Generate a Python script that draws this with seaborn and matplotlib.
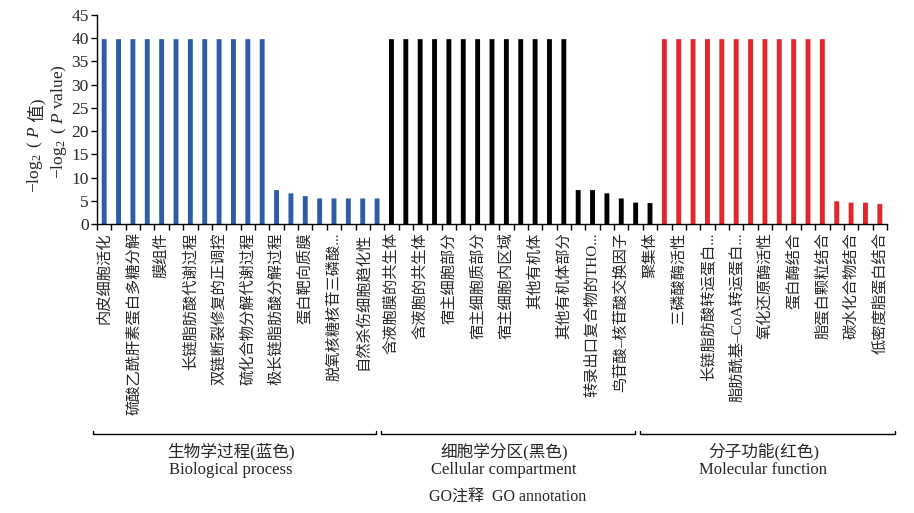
import numpy as np
import pandas as pd
import matplotlib
matplotlib.use("Agg")
import matplotlib.pyplot as plt
from matplotlib.lines import Line2D
import seaborn as sns

# ---------------- data ----------------
bp_values = [39.8, 39.8, 39.8, 39.8, 39.8, 39.8, 39.8, 39.8, 39.8, 39.8, 39.8, 39.8,
             7.3, 6.6, 6.0, 5.5, 5.5, 5.5, 5.5, 5.5]
cc_values = [39.8, 39.8, 39.8, 39.8, 39.8, 39.8, 39.8, 39.8, 39.8, 39.8, 39.8, 39.8, 39.8,
             7.3, 7.3, 6.6, 5.5, 4.6, 4.5]
mf_values = [39.8, 39.8, 39.8, 39.8, 39.8, 39.8, 39.8, 39.8, 39.8, 39.8, 39.8, 39.8,
             4.9, 4.6, 4.6, 4.3]

# labels shown under every other bar (bars 0, 2, 4, ...)
tick_labels = [
    "内皮细胞活化", "硫酸乙酰肝素蛋白多糖分解", "膜组件", "长链脂肪酸代谢过程",
    "双链断裂修复的正调控", "硫化合物分解代谢过程", "极长链脂肪酸分解过程", "蛋白靶向质膜",
    "脱氧核糖核苷三磷酸...", "自然杀伤细胞趋化性",
    "含液胞膜的共生体", "含液胞的共生体", "宿主细胞部分", "宿主细胞质部分",
    "宿主细胞内区域", "其他有机体", "其他有机体部分", "转录出口复合物的THO...",
    "鸟苷酸–核苷酸交换因子", "聚集体",
    "三磷酸酶活性", "长链脂肪酸转运蛋白...", "脂肪酰基–CoA转运蛋白...", "氧化还原酶活性",
    "蛋白酶结合", "脂蛋白颗粒结合", "碳水化合物结合", "低密度脂蛋白结合",
]

group_names = ["BP", "CC", "MF"]
group_cn = ["生物学过程(蓝色)", "细胞学分区(黑色)", "分子功能(红色)"]
group_en = ["Biological process", "Cellular compartment", "Molecular function"]
colors = {"BP": "#2D5CA9", "CC": "#000000", "MF": "#E3262C"}

values = bp_values + cc_values + mf_values
groups = (["BP"] * len(bp_values) + ["CC"] * len(cc_values) + ["MF"] * len(mf_values))
df = pd.DataFrame({"pos": np.arange(len(values)), "value": values, "group": groups})

# ---------------- style ----------------
sns.set_style("ticks")
serif_cjk = ["Liberation Serif", "Noto Sans CJK SC"]
plt.rcParams["font.family"] = serif_cjk
plt.rcParams["mathtext.fontset"] = "custom"
plt.rcParams["mathtext.rm"] = "Liberation Serif"
plt.rcParams["mathtext.it"] = "Liberation Serif:italic"
plt.rcParams["axes.unicode_minus"] = True

W, H = 914, 513
fig = plt.figure(figsize=(W / 100, H / 100), dpi=100)
ax = fig.add_axes([97 / W, 1 - 224 / H, (887 - 97) / W, (224 - 15) / H])

sns.barplot(data=df, x="pos", y="value", hue="group", hue_order=group_names,
            palette=colors, native_scale=True, width=0.34, dodge=False,
            saturation=1, legend=False, ax=ax, linewidth=0)
for p in ax.patches:
    p.set_snap(False)
    p.set_edgecolor("none")

n = len(values)
ax.set_xlim(-0.5, n - 0.5)
ax.set_ylim(0, 45)
ax.set_yticks(np.arange(0, 46, 5))
ax.set_xticks(np.arange(0, n, 2))
ax.set_xticklabels(tick_labels, rotation=90, fontsize=11, family=serif_cjk)
ax.set_xticks(np.arange(-0.5, n, 1), minor=True)
ax.tick_params(axis="x", which="major", length=0, pad=6)
ax.tick_params(axis="x", which="minor", length=4, width=1, direction="out", color="black")
ax.tick_params(axis="y", length=4, width=1, direction="out", labelsize=12.5, color="black", pad=2)
ax.set_xlabel("")
ax.set_ylabel("")
for s in ["top", "right"]:
    ax.spines[s].set_visible(False)
for s in ["left", "bottom"]:
    ax.spines[s].set_linewidth(1.0)
    ax.spines[s].set_color("black")

# ---------------- y label (two lines) ----------------
t1 = fig.text(35 / W, 1 - 193 / H, r"$-\log_2$ ( $P$", rotation=90, ha="center",
              va="bottom", fontsize=12.5, family="Liberation Serif")
fig.canvas.draw()
ax.annotate(" 值)", xy=(0.62, 1.0), xycoords=t1, ha="center", va="bottom",
            rotation=90, fontsize=12.5, family=serif_cjk, annotation_clip=False)
fig.text(59 / W, 1 - 179 / H, r"$-\log_2$ ( $P$ value)", rotation=90, ha="center",
         va="bottom", fontsize=12.5, family="Liberation Serif")

# ---------------- group brackets ----------------
brackets_px = [(93, 376), (381, 635), (640, 895)]
yb = 1 - 434 / H
tick_h = 3 / H
for (x0, x1), cn, en in zip(brackets_px, group_cn, group_en):
    fx0, fx1 = x0 / W, x1 / W
    fig.add_artist(Line2D([fx0, fx0, fx1, fx1], [yb + tick_h, yb, yb, yb + tick_h],
                          transform=fig.transFigure, color="black", lw=1.0))
    xc = (fx0 + fx1) / 2
    fig.text(xc - 4 / W, 1 - 452 / H, cn, ha="center", va="center", fontsize=12, family=serif_cjk)
    fig.text(xc - 4 / W, 1 - 470 / H, en, ha="center", va="center", fontsize=12, family=serif_cjk)

fig.text(508 / W, 1 - 498 / H, "GO注释  GO annotation", ha="center", va="center",
         fontsize=11.5, family=serif_cjk)

fig.savefig("out.png", dpi=100)
